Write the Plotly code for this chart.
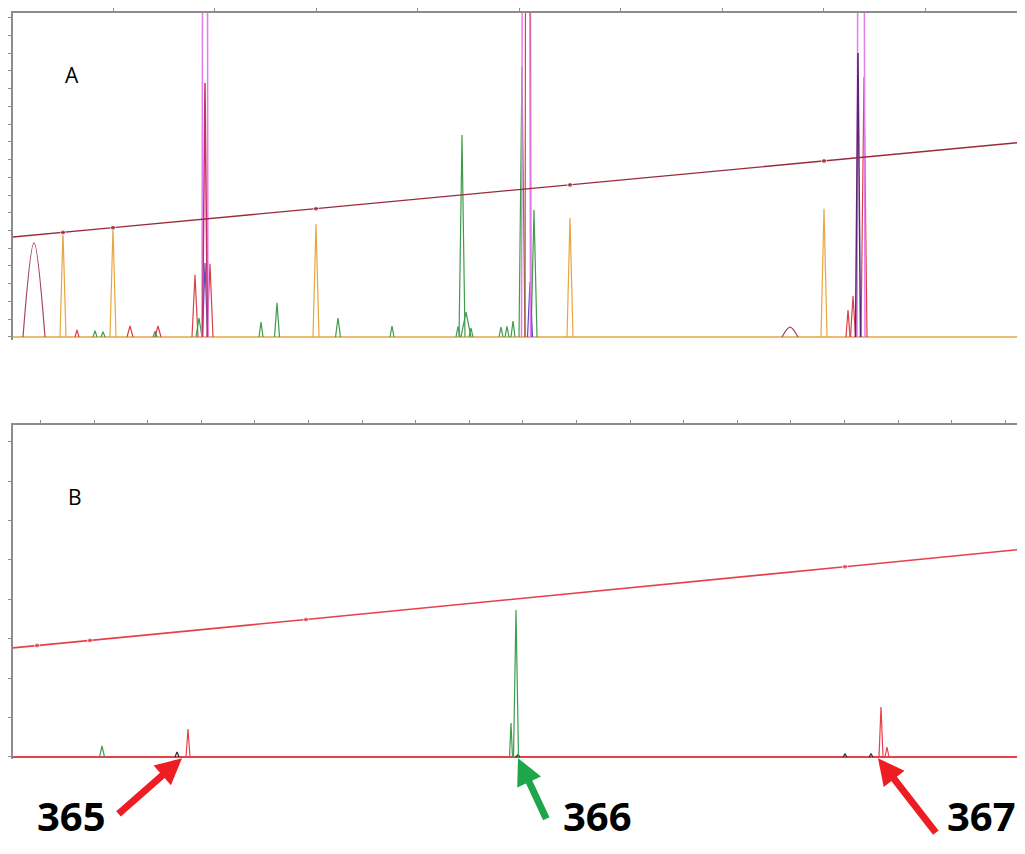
import plotly.graph_objects as go

# ---------------- data (x: scan units, y: RFU) ----------------
# Panel A
A_orange_pos = [50, 100, 303, 557, 811, 1011]
A_orange_h   = [2960, 3070, 3180, 3350, 3610, 3580]
A_orange_w   = [3, 3, 3, 3, 3, 3]

A_green_pos = [82, 90, 142, 186, 248, 264, 325, 379, 445, 449, 453, 458, 488, 494, 500, 509, 521]
A_green_h   = [180, 150, 160, 535, 420, 960, 535, 310, 300, 5690, 700, 250, 280, 300, 450, 7630, 3580]
A_green_w   = [2, 2, 2, 3, 2, 2.5, 2.5, 2, 2, 3, 5, 2, 2, 2, 2, 3, 3]

A_red_pos = [64, 117, 145, 182, 197, 515, 835, 840, 851]
A_red_h   = [200, 310, 310, 1750, 2060, 60000, 760, 1155, 7320]
A_red_w   = [2, 3, 3, 3, 3, 3, 2, 2.5, 3]

A_crimson_pos = [192]
A_crimson_h   = [7155]
A_crimson_w   = [2.5]

A_blue_pos = [192, 517]
A_blue_h   = [2085, 1550]
A_blue_w   = [2.5, 2.5]

A_purple_pos = [845]
A_purple_h   = [8000]
A_purple_w   = [2.5]

A_magenta_pos = [192, 513, 848]
A_magenta_h   = [60000, 60000, 60000]
A_magenta_w   = [3, 4.5, 4]

A_brown_pos = [21, 777]
A_brown_h   = [2650, 280]
A_brown_w   = [11, 8]

A_size_x = [0, 50, 100, 303, 557, 811, 1012]
A_size_y = [2817, 2945, 3080, 3615, 4285, 4960, 5493]

# Panel B
B_green_pos = [89, 498, 503]
B_green_h   = [28, 86, 373]
B_green_w   = [2.5, 1.5, 2.5]

B_red_pos = [175, 868, 874]
B_red_h   = [71, 127, 25]
B_red_w   = [2, 2, 2]

B_dark_pos = [164, 505, 832, 858]
B_dark_h   = [13, 6, 8, 8]
B_dark_w   = [2, 2, 2, 2]

B_size_x = [0, 24, 77, 293, 832, 1012]
B_size_y = [277, 283, 296, 349, 483, 528]

# allele labels
allele_labels = ["365", "366", "367"]
allele_x      = [169, 505, 865]

X_MAX = 1004

# colours
C_ORANGE = "#E9A640"
C_GREEN = "#3F9C4C"
C_RED = "#DB4048"
C_CRIMSON = "#C4306C"
C_BLUE = "#5A4CC0"
C_PURPLE = "#5E2478"
C_MAGENTA = "#E57CF2"
C_BROWN = "#A54656"
C_MAROON = "#9B2A3C"
C_BRED = "#E8404A"
C_AXIS = "#8C8C8C"


def spikes(pos, h, w):
    xs, ys = [], []
    for p, hh, ww in zip(pos, h, w):
        xs += [p - ww, p, p + ww, None]
        ys += [0, hh, 0, None]
    return xs, ys


fig = go.Figure()


def add_spikes(pos, h, w, color, xa, ya, width=1.2, shape="linear"):
    xs, ys = spikes(pos, h, w)
    fig.add_trace(go.Scatter(x=xs, y=ys, mode="lines", xaxis=xa, yaxis=ya,
                             line=dict(color=color, width=width, shape=shape),
                             hoverinfo="skip", showlegend=False))


# ----- Panel A -----
fig.add_trace(go.Scatter(x=[0, 1012], y=[0, 0], mode="lines", xaxis="x", yaxis="y",
                         line=dict(color=C_ORANGE, width=1.5), showlegend=False))
add_spikes(A_brown_pos, A_brown_h, A_brown_w, C_BROWN, "x", "y", shape="spline")
add_spikes(A_orange_pos, A_orange_h, A_orange_w, C_ORANGE, "x", "y")
add_spikes(A_green_pos, A_green_h, A_green_w, C_GREEN, "x", "y")
add_spikes(A_red_pos, A_red_h, A_red_w, C_RED, "x", "y")
add_spikes(A_blue_pos, A_blue_h, A_blue_w, C_BLUE, "x", "y")
add_spikes(A_magenta_pos, A_magenta_h, A_magenta_w, C_MAGENTA, "x", "y", width=1.5)
add_spikes(A_crimson_pos, A_crimson_h, A_crimson_w, C_CRIMSON, "x", "y", width=1.5)
add_spikes(A_purple_pos, A_purple_h, A_purple_w, C_PURPLE, "x", "y", width=1.5)
fig.add_trace(go.Scatter(x=A_size_x, y=A_size_y, mode="lines+markers", xaxis="x", yaxis="y",
                         line=dict(color=C_MAROON, width=1.3),
                         marker=dict(color=C_MAROON, size=[0, 5, 5, 5, 5, 5, 0]),
                         showlegend=False))

# ----- Panel B -----
fig.add_trace(go.Scatter(x=[0, 1012], y=[0, 0], mode="lines", xaxis="x2", yaxis="y2",
                         line=dict(color=C_BRED, width=2), showlegend=False))
add_spikes(B_dark_pos, B_dark_h, B_dark_w, "#2a2a2a", "x2", "y2")
add_spikes(B_green_pos, B_green_h, B_green_w, C_GREEN, "x2", "y2")
add_spikes(B_red_pos, B_red_h, B_red_w, C_BRED, "x2", "y2")
fig.add_trace(go.Scatter(x=B_size_x, y=B_size_y, mode="lines+markers", xaxis="x2", yaxis="y2",
                         line=dict(color=C_BRED, width=1.6),
                         marker=dict(color=C_BRED, size=[0, 5, 5, 5, 5, 0]),
                         showlegend=False))

axis_common = dict(showline=True, linecolor=C_AXIS, linewidth=2, showgrid=False,
                   zeroline=False, showticklabels=False, ticks="outside",
                   tickcolor=C_AXIS, ticklen=3)

fig.update_layout(
    width=1009, height=838,
    margin=dict(l=5, r=0, t=5, b=87),
    paper_bgcolor="white", plot_bgcolor="white",
    showlegend=False,
    xaxis=dict(axis_common, domain=[0, 1], range=[0, X_MAX], side="top", anchor="y",
               tick0=100, dtick=101.5),
    yaxis=dict(axis_common, domain=[0.5617, 1], range=[-84, 9127], anchor="x",
               tick0=0, dtick=500),
    xaxis2=dict(axis_common, domain=[0, 1], range=[0, X_MAX], side="top", anchor="y2",
                tick0=349, dtick=53.6),
    yaxis2=dict(axis_common, domain=[0, 0.4477], range=[-5.08, 842.6], anchor="x2",
                tick0=0, dtick=100),
)

ann = [
    dict(text="A", x=59, y=7380, xref="x", yref="y", showarrow=False,
         font=dict(family="Open Sans", size=21, color="black")),
    dict(text="B", x=62, y=660, xref="x2", yref="y2", showarrow=False,
         font=dict(family="Open Sans", size=21, color="black")),
]

arrow_cols = ["#EE1D23", "#1DA64A", "#EE1D23"]
arrow_off = [(-65, 57), (29, 62), (59, 76)]
for xv, col, (axp, ayp) in zip(allele_x, arrow_cols, arrow_off):
    ann.append(dict(text="", x=xv, y=-3, xref="x2", yref="y2", showarrow=True,
                    ax=axp, ay=ayp, axref="pixel", ayref="pixel",
                    arrowcolor=col, arrowwidth=7, arrowhead=2, arrowsize=0.75,
                    standoff=0))

label_x = [58.5, 584, 932]
label_anchor = ["center", "center", "left"]
for t, xv, xa in zip(allele_labels, label_x, label_anchor):
    ann.append(dict(text="<b>" + t + "</b>", x=xv, y=-0.1155, xref="x2", yref="paper",
                    showarrow=False, xanchor=xa, yanchor="bottom",
                    font=dict(family="Open Sans", size=40, color="black")))

fig.update_layout(annotations=ann)

fig.write_html("out.html")
